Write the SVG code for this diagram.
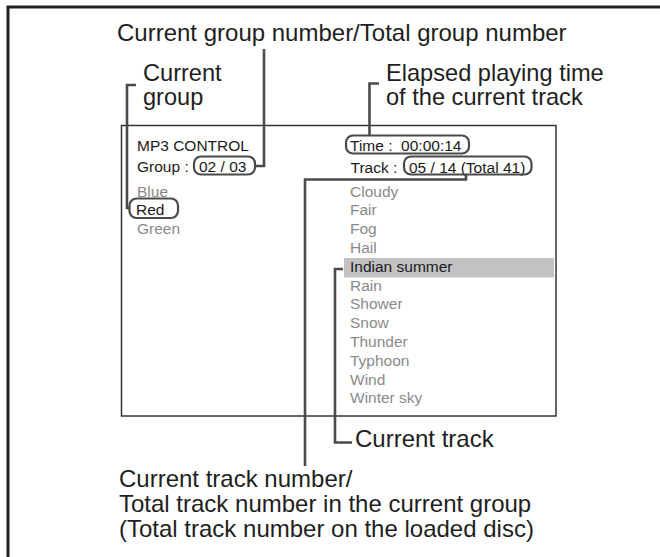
<svg xmlns="http://www.w3.org/2000/svg" width="660" height="557" viewBox="0 0 660 557">
<style>
.lbl{font-family:"Liberation Sans",Arial,sans-serif;font-size:24px;fill:#1e1e1e}
.lbl2{font-size:23.6px}
.scr{font-family:"Liberation Sans",Arial,sans-serif;font-size:15.5px;fill:#1a1a1a}
.dim{fill:#8a8a8a}
.pill{fill:none;stroke:#4a4a4a;stroke-width:2.2}
.conn{fill:none;stroke:#4a4a4a;stroke-width:2.6}
</style>
<rect width="660" height="557" fill="#ffffff"/>
<rect x="8" y="7" width="700" height="600" fill="none" stroke="#222" stroke-width="3"/>
<g id="screen">
<rect x="121.5" y="125.5" width="434.5" height="290.5" fill="none" stroke="#333" stroke-width="1.5"/>
<rect x="344" y="258" width="210" height="19.5" fill="#c2c2c2"/>
<text class="scr" x="137" y="150.5">MP3 CONTROL</text>
<text class="scr" x="137" y="171.5">Group : </text>
<text class="scr" x="199" y="171.5">02 / 03</text>
<text class="scr dim" x="137" y="196.5">Blue</text>
<text class="scr" x="136" y="215.3">Red</text>
<text class="scr dim" x="137" y="234.1">Green</text>
<text class="scr" x="350" y="150.7" xml:space="preserve">Time :  00:00:14</text>
<text class="scr" x="350.5" y="172.5">Track : </text>
<text class="scr" x="409" y="172.5">05 / 14 (Total 41)</text>
<text class="scr dim" x="350" y="196.5">Cloudy</text>
<text class="scr dim" x="350" y="215.3">Fair</text>
<text class="scr dim" x="350" y="234.1">Fog</text>
<text class="scr dim" x="350" y="252.9">Hail</text>
<text class="scr" x="350" y="271.7">Indian summer</text>
<text class="scr dim" x="350" y="290.5">Rain</text>
<text class="scr dim" x="350" y="309.3">Shower</text>
<text class="scr dim" x="350" y="328.1">Snow</text>
<text class="scr dim" x="350" y="346.9">Thunder</text>
<text class="scr dim" x="350" y="365.7">Typhoon</text>
<text class="scr dim" x="350" y="384.5">Wind</text>
<text class="scr dim" x="350" y="403.3">Winter sky</text>
</g>
<g id="group-value"><rect class="pill" x="194" y="156.5" width="61" height="18" rx="7"/></g>
<g id="current-group-item"><rect class="pill" x="129.5" y="198.5" width="48.5" height="19.5" rx="7"/></g>
<g id="time-value"><rect class="pill" x="346" y="135.5" width="123" height="18" rx="7"/></g>
<g id="track-value"><rect class="pill" x="404" y="156.5" width="127.5" height="18" rx="7"/></g>
<g id="label-group-number"><text class="lbl" x="117" y="41">Current group number/Total group number</text></g>
<g id="label-current-group"><text class="lbl lbl2" x="143" y="80.5">Current</text><text class="lbl lbl2" x="143" y="104.5">group</text></g>
<g id="label-elapsed"><text class="lbl lbl2" x="386" y="80.5">Elapsed playing time</text><text class="lbl lbl2" x="386" y="104.5">of the current track</text></g>
<g id="label-current-track"><text class="lbl" x="355" y="446.7">Current track</text></g>
<g id="label-track-number"><text class="lbl" x="119" y="486.5">Current track number/</text><text class="lbl" x="119" y="511.5">Total track number in the current group</text><text class="lbl" x="119" y="536.5">(Total track number on the loaded disc)</text></g>
<g id="connectors">
<path class="conn" d="M264,49 V166 H255"/>
<path class="conn" d="M136,85 H127 V208 H130"/>
<path class="conn" d="M379,83.5 H369.5 V135.5"/>
<path class="conn" d="M466,174.5 V179.5 H305 V466"/>
<path class="conn" d="M343,269 H335 V442.5 H352"/>
</g>
</svg>
